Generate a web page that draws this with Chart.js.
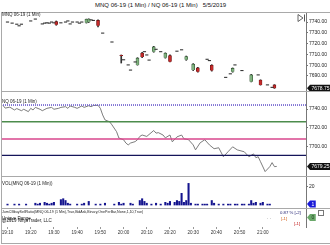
<!DOCTYPE html>
<html>
<head>
<meta charset="utf-8">
<script src="https://cdn.jsdelivr.net/npm/chart.js@4.4.0/dist/chart.umd.min.js"></script>
<style>
  html, body { margin: 0; padding: 0; background: #fff; }
  body { width: 330px; height: 245px; position: relative; overflow: hidden; font-family: 'Liberation Sans', Arial, sans-serif; }
  canvas { position: absolute; left: 0; }
  .lbl { position: absolute; white-space: pre; color: #222; line-height: 1; }
  .hsep { position: absolute; left: 1px; width: 329px; height: 0; border-top: 1px solid #a9a9a9; }
</style>
</head>
<body>
<div class="lbl" style="left:95px;top:2px;font-size:6px;color:#111">MNQ 06-19 (1 Min) / NQ 06-19 (1 Min)   5/5/2019</div>

<canvas id="pricePane" width="330" height="79" style="top:12px"></canvas>
<canvas id="nqPane" width="330" height="85" style="top:91px"></canvas>
<canvas id="volPane" width="330" height="32" style="top:176px"></canvas>
<canvas id="indPane" width="330" height="35" style="top:208px"></canvas>

<div class="hsep" style="top:12px"></div>
<div class="hsep" style="top:91px"></div>
<div class="hsep" style="top:176px"></div>
<div class="hsep" style="top:208px"></div>
<div class="hsep" style="top:243px"></div>
<div style="position:absolute;left:1px;top:12px;width:0;height:231px;border-left:1px solid #a9a9a9"></div>

<div class="lbl" style="left:2px;top:13px;font-size:4.5px">MNQ 06-19 (1 Min)</div>
<div class="lbl" style="left:2px;top:99.5px;font-size:4.5px">NQ 06-19 (1 Min)</div>
<div class="lbl" style="left:2px;top:182px;font-size:4.5px">VOL(MNQ 06-19 (1 Min))</div>
<div class="lbl" style="left:2px;top:211px;font-size:3.6px">JumCBbuySellRatio(MNQ 06-19 (1 Min),True,BidAsk,Binary,OnePerBar,None,1,10,True)</div>
<div class="lbl" style="left:2px;top:216.5px;font-size:4.5px">Unique Range</div>
<div class="lbl" style="left:2px;top:219px;font-size:4.5px">@2019 NinjaTrader, LLC</div>
<div class="lbl" style="left:280px;top:210.5px;font-size:4.3px;color:#1a1a6e">0.87 % [-2]</div>
<div class="lbl" style="left:267px;top:217px;font-size:4.5px;color:#555">· ·</div>
<div class="lbl" style="left:281px;top:217px;font-size:4.3px;color:#d2601a">[-1]</div>
<div class="lbl" style="left:294px;top:221.5px;font-size:4.3px;color:#c01818">[-1]</div>
<div style="position:absolute;left:318px;top:210px;width:4px;height:4px;border:1px solid #777"></div>
<svg style="position:absolute;left:297px;top:14px" width="9" height="8">
  <polygon points="1,0.5 6,4 1,7.5" fill="none" stroke="#555" stroke-width="0.9"/>
  <line x1="7.5" y1="0.5" x2="7.5" y2="7.5" stroke="#555" stroke-width="1"/>
</svg>

<script>
// MNQ 1 min bars (minutes after 19:00)
const candleTimes = [10, 12, 14, 15, 16, 20, 22, 25, 26, 27, 28, 29, 30, 31, 33, 35, 36, 37, 38, 40,
  41, 42, 44, 45, 46, 47, 49, 51, 55, 59, 60, 62, 63, 65, 66, 68, 69, 70, 71, 73,
  74, 76, 78, 80, 83, 85, 87, 90, 92, 96, 97, 98, 104, 106, 107, 108, 111, 115, 118, 119,
  122, 124, 125];
const candleOpen = [7740, 7739, 7738, 7736.5, 7738, 7741, 7742.75, 7738.25, 7739, 7739.25, 7739, 7740, 7739.25, 7740.5, 7739.25, 7740, 7741, 7738.25, 7740, 7740,
  7739, 7740, 7739.25, 7740, 7742, 7741.5, 7741.5, 7729.75, 7721.5, 7709.25, 7705, 7700.25, 7695.5, 7703, 7700.25, 7711.25, 7712.5, 7709.5, 7704.75, 7712.5,
  7714.75, 7712.5, 7707, 7709, 7713, 7714.25, 7705, 7695.5, 7697.5, 7705.5, 7704.25, 7700, 7688.75, 7692, 7694, 7700.25, 7695, 7684.75, 7691, 7686.25,
  7681.75, 7679.5, 7681.75];
const candleHigh = [7740, 7739, 7738, 7736.5, 7738, 7741, 7742.75, 7738.25, 7739, 7739.25, 7739, 7740, 7739.25, 7741, 7739.25, 7740, 7741, 7738.25, 7740, 7740,
  7739, 7740, 7742.75, 7743, 7742, 7741.5, 7742, 7729.75, 7721.5, 7709.5, 7705, 7700.25, 7695.5, 7703, 7707, 7712, 7712.5, 7709.5, 7704.75, 7717.5,
  7714.75, 7712.5, 7711.5, 7709.5, 7713, 7714.25, 7708.5, 7701.5, 7698, 7705.5, 7704.25, 7700.5, 7688.75, 7692, 7697.5, 7700.25, 7695, 7691.5, 7691, 7686.5,
  7681.75, 7679.5, 7682];
const candleLow = [7740, 7739, 7738, 7736.5, 7738, 7741, 7742.75, 7738.25, 7739, 7739.25, 7739, 7740, 7739.25, 7737, 7739.25, 7740, 7741, 7738.25, 7740, 7740,
  7739, 7740, 7739, 7739.5, 7742, 7741.5, 7735.5, 7729.75, 7721.5, 7702, 7705, 7700.25, 7695.5, 7703, 7700, 7707, 7712.5, 7709.5, 7704.75, 7712,
  7714.75, 7712.5, 7706.5, 7703, 7713, 7714.25, 7704.5, 7695, 7693.5, 7705.5, 7704.25, 7694.5, 7688.75, 7692, 7693.5, 7700.25, 7695, 7684.5, 7691, 7681.5,
  7681.75, 7679.5, 7678.5];
const candleClose = [7740, 7739, 7738, 7736.5, 7738, 7741, 7742.75, 7738.25, 7739, 7739.25, 7739, 7740, 7739.25, 7737.5, 7739.25, 7740, 7741, 7738.25, 7740, 7740,
  7739, 7740, 7742.5, 7742.75, 7742, 7741.5, 7736.5, 7729.75, 7721.5, 7708.5, 7705, 7700.25, 7695.5, 7703, 7706.5, 7707.5, 7712.5, 7709.5, 7704.75, 7717,
  7714.75, 7712.5, 7711, 7703.25, 7713, 7714.25, 7708, 7701, 7694, 7705.5, 7704.25, 7695, 7688.75, 7692, 7697, 7700.25, 7695, 7691, 7691, 7681.75,
  7681.75, 7679.5, 7678.75];

// NQ close line
const nqTimes = [8, 9, 11, 13, 14, 16, 17, 19, 20, 21, 22, 24, 25, 27, 29, 30, 32, 33, 35, 36,
  37, 39, 40, 42, 43, 45, 46, 47, 49, 50, 51, 52, 54, 55, 57, 58, 60, 61, 62, 63,
  65, 66, 67, 68, 70, 73, 74, 75, 77, 78, 80, 81, 83, 85, 86, 88, 90, 91, 93, 95,
  97, 99, 101, 103, 105, 107, 109, 112, 114, 116, 117, 118, 119, 121, 123, 124, 125, 126];
const nqClose = [7744, 7741, 7742, 7739, 7740.5, 7738.25, 7739.75, 7737.25, 7740.75, 7739, 7741.75, 7739.75, 7738.25, 7740.75, 7741.75, 7739.75, 7740.75, 7741.75, 7742.5, 7740.75,
  7743.25, 7741.75, 7740.75, 7743.25, 7741.75, 7743.5, 7742.5, 7743.75, 7744, 7740.75, 7733.75, 7728.5, 7726.5, 7723.25, 7716, 7709.25, 7707.5, 7704, 7702, 7704,
  7705.5, 7707.5, 7711, 7712.5, 7711, 7717.25, 7714.5, 7715, 7712.5, 7709.5, 7712.5, 7705.25, 7710.5, 7712.5, 7708.5, 7707.5, 7702, 7696.75, 7704.25, 7707.5,
  7702, 7698, 7699, 7689.5, 7694.75, 7700, 7696.75, 7694.75, 7689.5, 7692.5, 7688.5, 7689.5, 7684.25, 7673.75, 7679, 7683.25, 7679, 7679.25];

// horizontal levels on the NQ pane
const levelValues = [7744.25, 7726.5, 7708.25, 7691];

// MNQ volume
const volTimes = [10, 13, 15, 18, 22, 23, 24, 26, 27, 28, 29, 30, 33, 34, 35, 36, 37, 40, 42, 43,
  45, 48, 50, 52, 56, 58, 59, 60, 63, 64, 67, 68, 69, 70, 72, 74, 76, 78, 79, 80,
  82, 83, 84, 85, 86, 87, 88, 89, 91, 92, 94, 95, 96, 98, 99, 101, 103, 105, 106, 108,
  109, 111, 112, 114, 115, 116, 117, 119, 120, 122, 123];
const volValues = [1, 1, 1, 1, 2, 1, 2, 3, 2, 1, 2, 3, 6, 7, 5, 2, 1, 1, 1, 2,
  4, 1, 1, 2, 1, 3, 1, 2, 2, 1, 5, 7, 4, 2, 1, 2, 1, 3, 2, 4,
  3, 5, 4, 13, 3, 5, 24, 2, 1, 1, 1, 1, 1, 5, 2, 1, 1, 1, 1, 1,
  1, 1, 1, 1, 5, 2, 3, 2, 3, 1, 1];

const priceTicks = [7740, 7730, 7720, 7710, 7700, 7690];
const nqTicks = [7740, 7720, 7700];
const volTicks = [20];
const timeTicks = [10, 20, 30, 40, 50, 60, 70, 80, 90, 100, 110, 120];
const timeLabels = ['19:10', '19:20', '19:30', '19:40', '19:50', '20:00', '20:10', '20:20', '20:30', '20:40', '20:50', '21:00'];

const X_MIN = 7.2, X_MAX = 138.6;
const FONT = 'Liberation Sans';

// little arrow box on the price axis showing the last value
const lastValueBox = {
    id: 'lastValueBox',
    afterDraw(chart, args, opts) {
        if (!opts || opts.value === undefined) return;
        const ctx = chart.ctx;
        const y = chart.scales.y.getPixelForValue(opts.value);
        const x = chart.chartArea.right;
        ctx.save();
        ctx.font = '5px "' + FONT + '"';
        const w = ctx.measureText(opts.text).width + 3;
        ctx.fillStyle = opts.color;
        ctx.beginPath();
        ctx.moveTo(x + 1, y);
        ctx.lineTo(x + 4, y - 3.5);
        ctx.lineTo(x + 4 + w, y - 3.5);
        ctx.lineTo(x + 4 + w, y + 3.5);
        ctx.lineTo(x + 4, y + 3.5);
        ctx.closePath();
        ctx.fill();
        ctx.fillStyle = opts.textColor || '#fff';
        ctx.textBaseline = 'middle';
        ctx.fillText(opts.text, x + 5.5, y + 0.5);
        ctx.restore();
    }
};
Chart.register(lastValueBox);

function timeScale(show) {
    const scale = {
        type: 'linear',
        min: X_MIN,
        max: X_MAX,
        offset: false,
        display: show,
        grid: { display: true, drawOnChartArea: false, tickLength: 2, color: '#999' },
        border: { display: false },
        ticks: {
            font: { family: FONT, size: 4.6 },
            color: '#333',
            padding: 1,
            maxRotation: 0,
            autoSkip: false,
            callback: (v, i) => timeLabels[i]
        },
        afterBuildTicks: s => { s.ticks = timeTicks.map(v => ({ value: v })); }
    };
    if (show) {
        scale.afterFit = s => { s.height = 16; s.paddingLeft = 0; s.paddingRight = 0; };
    }
    return scale;
}

function valueScale(min, max, tickValues, digits) {
    return {
        position: 'right',
        min: min,
        max: max,
        grid: { display: true, drawOnChartArea: false, tickLength: 2, color: '#777' },
        border: { display: true, color: '#777' },
        ticks: {
            font: { family: FONT, size: 5 },
            color: '#222',
            padding: 1,
            callback: v => Number(v).toFixed(digits)
        },
        afterBuildTicks: s => { s.ticks = tickValues.map(v => ({ value: v })); },
        // keep the pane full height: no room reserved for half labels
        afterFit: s => { s.width = 24; s.paddingTop = 0; s.paddingBottom = 0; }
    };
}

function baseOptions(xShow, yScale, box) {
    return {
        responsive: false,
        animation: false,
        devicePixelRatio: 1,
        events: [],
        layout: { autoPadding: false, padding: { left: 1, right: 0, top: 0, bottom: 0 } },
        plugins: { legend: { display: false }, tooltip: { enabled: false }, lastValueBox: box },
        scales: { x: timeScale(xShow), y: yScale }
    };
}

// ---- MNQ candles ----
const wicks = [], bodies = [], bodyFill = [], bodyLine = [], dojis = [];
candleTimes.forEach((t, i) => {
    const o = candleOpen[i], c = candleClose[i];
    if (candleHigh[i] > candleLow[i]) wicks.push({ x: t, y: [candleLow[i], candleHigh[i]] });
    if (o === c) {
        dojis.push({ x: t, y: c });
    } else {
        bodies.push({ x: t, y: [Math.min(o, c), Math.max(o, c)] });
        bodyFill.push(c > o ? '#7fb27f' : '#c62a2a');
        bodyLine.push(c > o ? '#2f4f2f' : '#5a1010');
    }
});

new Chart(document.getElementById('pricePane'), {
    type: 'bar',
    data: {
        datasets: [
            { data: wicks, backgroundColor: '#333', barThickness: 1, grouped: false, order: 3 },
            { data: bodies, backgroundColor: bodyFill, borderColor: bodyLine, borderWidth: 0.6, barThickness: 3, grouped: false, order: 2 },
            { type: 'line', data: dojis, showLine: false, pointStyle: 'line', pointRadius: 1.6, borderColor: '#222', borderWidth: 1, order: 1 }
        ]
    },
    options: baseOptions(false, valueScale(7676.1, 7749.3, priceTicks, 2),
        { value: candleClose[candleClose.length - 1], text: candleClose[candleClose.length - 1].toFixed(2), color: '#111' })
});

// ---- NQ line with levels ----
const levelStyles = [
    { color: '#6a5acd', width: 1.6, dash: [1, 1] },
    { color: '#4c8c4c', width: 1.6, dash: [] },
    { color: '#d9468c', width: 1.6, dash: [] },
    { color: '#14145a', width: 1.2, dash: [] }
];
const nqDatasets = levelValues.map((v, i) => ({
    data: [{ x: X_MIN, y: v }, { x: X_MAX, y: v }],
    borderColor: levelStyles[i].color,
    borderWidth: levelStyles[i].width,
    borderDash: levelStyles[i].dash,
    pointRadius: 0
}));
nqDatasets.push({
    data: nqTimes.map((t, i) => ({ x: t, y: nqClose[i] })),
    borderColor: '#6e6e6e',
    borderWidth: 0.9,
    pointRadius: 0,
    tension: 0
});

new Chart(document.getElementById('nqPane'), {
    type: 'line',
    data: { datasets: nqDatasets },
    options: baseOptions(false, valueScale(7669.1, 7759.1, nqTicks, 2),
        { value: nqClose[nqClose.length - 1], text: nqClose[nqClose.length - 1].toFixed(2), color: '#111' })
});

// ---- volume ----
new Chart(document.getElementById('volPane'), {
    type: 'bar',
    data: {
        datasets: [{
            data: volTimes.map((t, i) => ({ x: t, y: volValues[i] })),
            backgroundColor: '#14148e',
            barThickness: 1.4
        }]
    },
    options: baseOptions(false, valueScale(-3.3, 32.2, volTicks, 0),
        { value: volValues[volValues.length - 1], text: String(volValues[volValues.length - 1]), color: '#1a1ad8' })
});

// ---- indicator pane + time axis ----
new Chart(document.getElementById('indPane'), {
    type: 'line',
    data: { datasets: [] },
    options: baseOptions(true, valueScale(-1, 1, [], 0),
        { value: 0, text: '0', color: '#6aa86a', textColor: '#1f3f1f' })
});
</script>
</body>
</html>
